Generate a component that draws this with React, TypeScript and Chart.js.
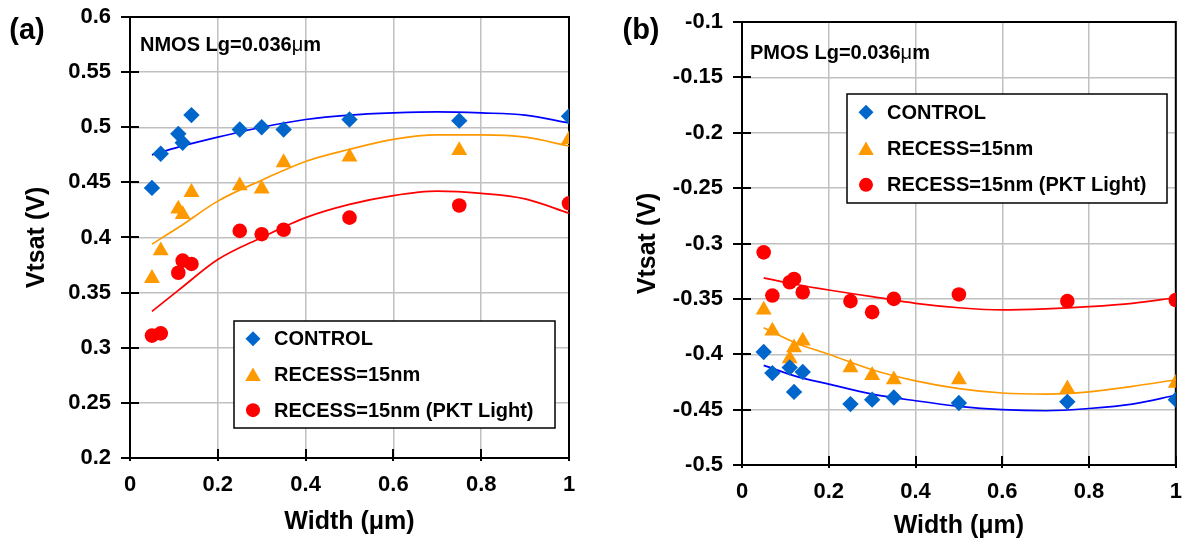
import React, { useEffect, useRef } from 'react';
import { Chart, registerables } from 'chart.js';

Chart.register(...registerables);

const FONT = "'Liberation Sans', Arial, Helvetica, sans-serif";

// ---------- data ----------
const WIDTHS = [0.05, 0.07, 0.11, 0.12, 0.14, 0.25, 0.3, 0.35, 0.5, 0.75, 1.0];

const NMOS_CONTROL = [0.445, 0.476, 0.494, 0.486, 0.511, 0.498, 0.5, 0.498, 0.507, 0.506, 0.51];
const NMOS_RECESS = [0.363, 0.388, 0.426, 0.421, 0.441, 0.447, 0.444, 0.468, 0.473, 0.479, 0.489];
const NMOS_PKT = [0.311, 0.313, 0.368, 0.379, 0.376, 0.406, 0.403, 0.407, 0.418, 0.429, 0.431];

const NMOS_FIT_X = [0.05, 0.11, 0.2, 0.3, 0.4, 0.5, 0.6, 0.7, 0.8, 0.9, 1.0];
const NMOS_FIT_CONTROL = [0.475, 0.482, 0.491, 0.5, 0.507, 0.511, 0.513, 0.514, 0.513, 0.511, 0.504];
const NMOS_FIT_RECESS = [0.394, 0.409, 0.433, 0.452, 0.469, 0.48, 0.489, 0.493, 0.493, 0.491, 0.483];
const NMOS_FIT_PKT = [0.333, 0.352, 0.38, 0.4, 0.418, 0.43, 0.438, 0.442, 0.44, 0.435, 0.422];

const PMOS_CONTROL = [-0.398, -0.417, -0.412, -0.434, -0.416, -0.445, -0.441, -0.439, -0.444, -0.443, -0.441];
const PMOS_RECESS = [-0.36, -0.379, -0.404, -0.394, -0.388, -0.412, -0.419, -0.423, -0.423, -0.431, -0.426];
const PMOS_PKT = [-0.308, -0.347, -0.335, -0.332, -0.344, -0.352, -0.362, -0.35, -0.346, -0.352, -0.351];

const PMOS_FIT_X = [0.05, 0.125, 0.2, 0.3, 0.4, 0.5, 0.6, 0.7, 0.8, 0.9, 1.0];
const PMOS_FIT_CONTROL = [-0.41, -0.42, -0.427, -0.436, -0.442, -0.447, -0.45, -0.451, -0.449, -0.445, -0.437];
const PMOS_FIT_RECESS = [-0.376, -0.39, -0.4, -0.414, -0.424, -0.431, -0.435, -0.436, -0.434, -0.429, -0.423];
const PMOS_FIT_PKT = [-0.331, -0.337, -0.342, -0.348, -0.354, -0.358, -0.36, -0.359, -0.357, -0.354, -0.349];

const X_TICKS = [0, 0.2, 0.4, 0.6, 0.8, 1];
const NMOS_Y_TICKS = [0.2, 0.25, 0.3, 0.35, 0.4, 0.45, 0.5, 0.55, 0.6];
const PMOS_Y_TICKS = [-0.5, -0.45, -0.4, -0.35, -0.3, -0.25, -0.2, -0.15, -0.1];

const SERIES_NAMES = ['CONTROL', 'RECESS=15nm', 'RECESS=15nm (PKT Light)'];
const X_TITLE = 'Width (\u03bcm)';
const Y_TITLE = 'Vtsat (V)';

// ---------- styles ----------
const MARKER_COLORS = ['#0066cc', '#ff9900', '#ff0000'];
const LINE_COLORS = ['#0000ff', '#ff9900', '#ff0000'];
const MARKER_STYLES = ['rectRot', 'triangle', 'circle'];
const MARKER_RADII = [8.2, 9.2, 7.3];
const LEGEND_RADII = [7.5, 9, 7];

type PanelCfg = {
  tag: string;
  note: string;
  values: number[][];
  fitX: number[];
  fits: number[][];
  yTicks: number[];
  yMin: number;
  yMax: number;
  width: number;
  padRight: number;
  padTop: number;
  yAxisWidth: number;
  xAxisHeight: number;
  yTitlePad: number;
  xTitlePad: number;
  tagX: number;
  legend: { x: number; y: number; w: number; h: number };
  noteOffset: { x: number; y: number };
};

const PANELS: PanelCfg[] = [
  {
    tag: '(a)',
    note: 'NMOS Lg=0.036',
    values: [NMOS_CONTROL, NMOS_RECESS, NMOS_PKT],
    fitX: NMOS_FIT_X,
    fits: [NMOS_FIT_CONTROL, NMOS_FIT_RECESS, NMOS_FIT_PKT],
    yTicks: NMOS_Y_TICKS,
    yMin: 0.2,
    yMax: 0.6,
    width: 600,
    padRight: 31,
    padTop: 17,
    yAxisWidth: 130,
    xAxisHeight: 83,
    yTitlePad: 22,
    xTitlePad: 4,
    tagX: 27,
    legend: { x: 234, y: 321, w: 321, h: 107 },
    noteOffset: { x: 10, y: 28 },
  },
  {
    tag: '(b)',
    note: 'PMOS Lg=0.036',
    values: [PMOS_CONTROL, PMOS_RECESS, PMOS_PKT],
    fitX: PMOS_FIT_X,
    fits: [PMOS_FIT_CONTROL, PMOS_FIT_RECESS, PMOS_FIT_PKT],
    yTicks: PMOS_Y_TICKS,
    yMin: -0.5,
    yMax: -0.1,
    width: 585,
    padRight: 5,
    padTop: 22,
    yAxisWidth: 142,
    xAxisHeight: 76,
    yTitlePad: 33,
    xTitlePad: 0,
    tagX: 41,
    legend: { x: 247, y: 94, w: 320, h: 109 },
    noteOffset: { x: 8, y: 31 },
  },
];

function drawMarker(ctx: CanvasRenderingContext2D, style: string, x: number, y: number, r: number, color: string) {
  ctx.beginPath();
  if (style === 'rectRot') {
    ctx.moveTo(x - r, y);
    ctx.lineTo(x, y - r);
    ctx.lineTo(x + r, y);
    ctx.lineTo(x, y + r);
  } else if (style === 'triangle') {
    const s = Math.sin(Math.PI / 3) * r;
    ctx.moveTo(x, y - r);
    ctx.lineTo(x + s, y + r / 2);
    ctx.lineTo(x - s, y + r / 2);
  } else {
    ctx.arc(x, y, r, 0, Math.PI * 2);
  }
  ctx.closePath();
  ctx.fillStyle = color;
  ctx.fill();
}

function decoPlugin(p: PanelCfg) {
  return {
    id: 'deco',
    beforeDatasetsDraw(chart: any) {
      const { ctx, chartArea: a, scales } = chart;
      ctx.save();
      ctx.strokeStyle = '#000';
      ctx.lineWidth = 2;
      ctx.beginPath();
      for (const t of p.yTicks) {
        const y = Math.round(scales.y.getPixelForValue(t));
        ctx.moveTo(a.left - 9, y);
        ctx.lineTo(a.left + 9, y);
      }
      for (const t of X_TICKS) {
        const x = Math.round(scales.x.getPixelForValue(t));
        ctx.moveTo(x, a.bottom - 9);
        ctx.lineTo(x, a.bottom + 3);
      }
      ctx.stroke();
      ctx.strokeRect(a.left, a.top, a.right - a.left, a.bottom - a.top);
      ctx.restore();
    },
    afterDatasetsDraw(chart: any) {
      const { ctx, chartArea: a } = chart;
      ctx.save();
      // annotation
      ctx.fillStyle = '#000';
      ctx.textBaseline = 'middle';
      ctx.textAlign = 'left';
      ctx.font = `bold 20px ${FONT}`;
      const nx = a.left + p.noteOffset.x;
      const ny = a.top + p.noteOffset.y;
      ctx.fillText(p.note, nx, ny);
      let w = ctx.measureText(p.note).width;
      ctx.font = `20px ${FONT}`;
      ctx.fillText('\u03bc', nx + w, ny);
      w += ctx.measureText('\u03bc').width;
      ctx.font = `bold 20px ${FONT}`;
      ctx.fillText('m', nx + w, ny);

      // legend
      const L = p.legend;
      ctx.fillStyle = '#fff';
      ctx.fillRect(L.x, L.y, L.w, L.h);
      ctx.strokeStyle = '#000';
      ctx.lineWidth = 1.5;
      ctx.strokeRect(L.x, L.y, L.w, L.h);
      const rowH = L.h / 3;
      for (let i = 0; i < 3; i++) {
        const cy = L.y + rowH * (i + 0.5);
        const my = MARKER_STYLES[i] === 'triangle' ? cy + 2 : cy;
        drawMarker(ctx, MARKER_STYLES[i], L.x + 19, my, LEGEND_RADII[i], MARKER_COLORS[i]);
        ctx.fillStyle = '#000';
        ctx.font = `bold 20px ${FONT}`;
        ctx.fillText(SERIES_NAMES[i], L.x + 40, cy + 1);
      }
      ctx.restore();
    },
    afterDraw(chart: any) {
      const { ctx } = chart;
      ctx.save();
      ctx.fillStyle = '#000';
      ctx.font = `bold 29px ${FONT}`;
      ctx.textAlign = 'center';
      ctx.textBaseline = 'middle';
      ctx.fillText(p.tag, p.tagX, 31);
      ctx.restore();
    },
  };
}

function Panel({ cfg }: { cfg: PanelCfg }) {
  const ref = useRef<HTMLCanvasElement>(null);
  useEffect(() => {
    if (!ref.current) return;
    const datasets: any[] = [];
    for (let i = 0; i < 3; i++) {
      datasets.push({
        type: 'scatter',
        label: SERIES_NAMES[i],
        data: WIDTHS.map((x, k) => ({ x, y: cfg.values[i][k] })),
        pointStyle: MARKER_STYLES[i],
        pointRadius: MARKER_RADII[i],
        pointBackgroundColor: MARKER_COLORS[i],
        pointBorderWidth: 0,
        borderColor: MARKER_COLORS[i],
        backgroundColor: MARKER_COLORS[i],
        showLine: false,
        order: 0,
      });
    }
    for (let i = 0; i < 3; i++) {
      datasets.push({
        type: 'line',
        label: SERIES_NAMES[i] + ' fit',
        data: cfg.fitX.map((x, k) => ({ x, y: cfg.fits[i][k] })),
        borderColor: LINE_COLORS[i],
        borderWidth: 1.7,
        pointRadius: 0,
        fill: false,
        tension: 0,
        cubicInterpolationMode: 'monotone',
        order: 1,
      });
    }
    const chart = new Chart(ref.current, {
      type: 'scatter',
      data: { datasets },
      plugins: [decoPlugin(cfg)],
      options: {
        animation: false,
        responsive: false,
        devicePixelRatio: 1,
        layout: { padding: { left: 0, right: cfg.padRight, top: cfg.padTop, bottom: 0 } },
        plugins: { legend: { display: false }, tooltip: { enabled: false } },
        scales: {
          x: {
            type: 'linear',
            min: 0,
            max: 1,
            afterBuildTicks: (s: any) => {
              s.ticks = X_TICKS.map((v) => ({ value: v }));
            },
            afterFit: (s: any) => {
              s.height = cfg.xAxisHeight;
              s.paddingLeft = 0;
              s.paddingRight = 0;
            },
            ticks: {
              callback: (v: any) => String(v),
              font: { family: FONT, size: 22, weight: 'bold' },
              color: '#000',
              padding: 14,
              maxRotation: 0,
              autoSkip: false,
            },
            grid: { color: '#c0c0c0', lineWidth: 1.5, drawTicks: false },
            border: { display: false },
            title: {
              display: true,
              text: X_TITLE,
              font: { family: FONT, size: 25, weight: 'bold' },
              color: '#000',
              padding: { top: 0, bottom: cfg.xTitlePad },
            },
          },
          y: {
            type: 'linear',
            min: cfg.yMin,
            max: cfg.yMax,
            afterBuildTicks: (s: any) => {
              s.ticks = cfg.yTicks.map((v) => ({ value: v }));
            },
            afterFit: (s: any) => {
              s.width = cfg.yAxisWidth;
              s.paddingTop = 0;
              s.paddingBottom = 0;
            },
            ticks: {
              callback: (v: any) => String(v),
              font: { family: FONT, size: 22, weight: 'bold' },
              color: '#000',
              padding: 19,
              autoSkip: false,
            },
            grid: { color: '#c0c0c0', lineWidth: 1.5, drawTicks: false },
            border: { display: false },
            title: {
              display: true,
              text: Y_TITLE,
              font: { family: FONT, size: 25, weight: 'bold' },
              color: '#000',
              padding: { top: cfg.yTitlePad, bottom: 0 },
            },
          },
        },
      },
    });
    return () => chart.destroy();
  }, [cfg]);
  return <canvas ref={ref} width={cfg.width} height={541} style={{ display: 'block', width: cfg.width, height: 541 }} />;
}

export default function App() {
  useEffect(() => {
    document.body.style.margin = '0';
  }, []);
  return (
    <div style={{ display: 'flex', width: 1185, height: 541, background: '#fff', overflow: 'hidden' }}>
      <Panel cfg={PANELS[0]} />
      <Panel cfg={PANELS[1]} />
    </div>
  );
}
